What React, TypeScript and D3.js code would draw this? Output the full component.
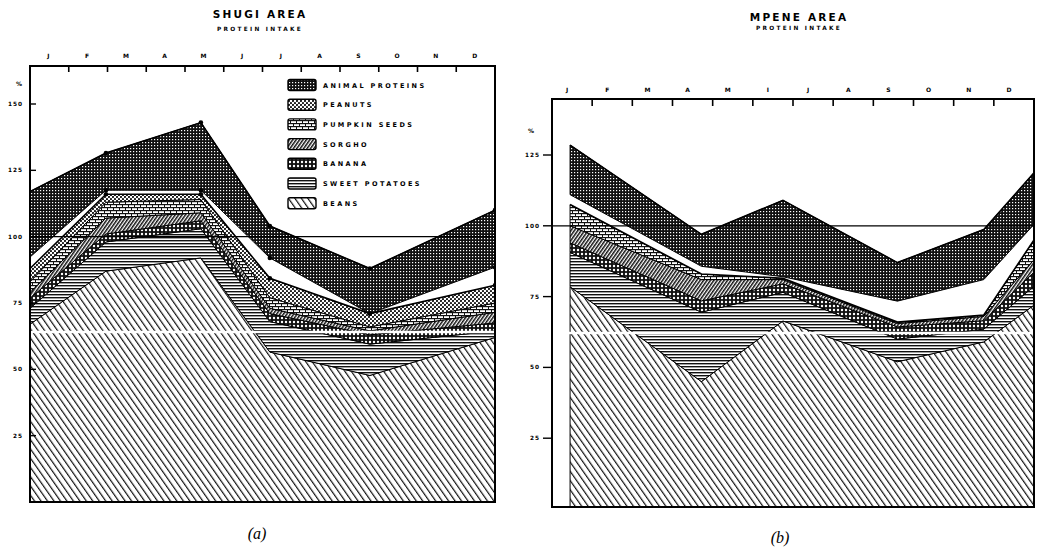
import React from "react";
import * as d3 from "d3";

// ---------- data ----------
const MONTHS_A = ["J", "F", "M", "A", "M", "J", "J", "A", "S", "O", "N", "D"];
const MONTHS_B = ["J", "F", "M", "A", "M", "I", "J", "A", "S", "O", "N", "D"];

const KEYS = ["beans", "sweetPotatoes", "banana", "sorgho", "pumpkin", "peanuts", "gap", "animal"];

const LEGEND_KEYS = ["animal", "peanuts", "pumpkin", "sorgho", "banana", "sweetPotatoes", "beans"];
const LEGEND_LABELS = ["ANIMAL PROTEINS", "PEANUTS", "PUMPKIN SEEDS", "SORGHO", "BANANA", "SWEET POTATOES", "BEANS"];

// Shugi area (month position, 0 = start of January)
const SHUGI_X = [0, 1.96, 4.41, 6.19, 8.77, 12];
const SHUGI_BEANS = [67, 87, 92, 56.5, 47.7, 62];
const SHUGI_SWEET_POTATOES = [6, 11, 11, 11.5, 11.8, 2.5];
const SHUGI_BANANA = [3.8, 3, 3, 3, 3.5, 3];
const SHUGI_SORGHO = [2.2, 6, 3, 2, 1.5, 4];
const SHUGI_PUMPKIN = [4, 6, 5, 4, 1.5, 3.5];
const SHUGI_PEANUTS = [5, 3, 2, 7.3, 5, 6.7];
const SHUGI_GAP = [4.3, 1.5, 1.5, 7.7, 0, 6.8];
const SHUGI_ANIMAL = [24.7, 14, 25.5, 12, 17, 21.5];

// Mpene area
const MPENE_X = [0.45, 3.72, 5.75, 8.6, 10.75, 12];
const MPENE_BEANS = [78.5, 45, 66.4, 52, 59, 72];
const MPENE_SWEET_POTATOES = [12.1, 24.5, 10.1, 8, 4.5, 6.7];
const MPENE_BANANA = [3.4, 4, 3, 4.3, 3, 4.9];
const MPENE_SORGHO = [6, 7.5, 1.5, 1.2, 1.5, 4.4];
const MPENE_PUMPKIN = [7.5, 2, 0.5, 0.5, 0.5, 7];
const MPENE_PEANUTS = [0, 0, 0, 0, 0, 0];
const MPENE_GAP = [3.5, 2.7, 0.5, 7.4, 12.5, 5.5];
const MPENE_ANIMAL = [17.5, 11.3, 27, 13.6, 17.7, 18.2];

const TICKS_A = [25, 50, 75, 100, 125, 150];
const TICKS_B = [25, 50, 75, 100, 125];

function buildRows(xs: number[], series: number[][]) {
  return xs.map((x, i) => {
    const r: any = { x };
    KEYS.forEach((k, j) => (r[k] = series[j][i]));
    return r;
  });
}

const SHUGI_ROWS = buildRows(SHUGI_X, [
  SHUGI_BEANS, SHUGI_SWEET_POTATOES, SHUGI_BANANA, SHUGI_SORGHO,
  SHUGI_PUMPKIN, SHUGI_PEANUTS, SHUGI_GAP, SHUGI_ANIMAL,
]);
const MPENE_ROWS = buildRows(MPENE_X, [
  MPENE_BEANS, MPENE_SWEET_POTATOES, MPENE_BANANA, MPENE_SORGHO,
  MPENE_PUMPKIN, MPENE_PEANUTS, MPENE_GAP, MPENE_ANIMAL,
]);

const FONT = "'DejaVu Sans', 'Liberation Sans', sans-serif";

function fillFor(k: string) {
  return k === "gap" ? "#fff" : `url(#p-${k})`;
}

function Patterns() {
  return (
    <defs>
      <pattern id="p-animal" width="3" height="3" patternUnits="userSpaceOnUse">
        <rect width="3" height="3" fill="#111" />
        <rect x="1" y="1" width="1.2" height="1.2" fill="#fff" />
      </pattern>
      <pattern id="p-peanuts" width="4" height="4" patternUnits="userSpaceOnUse">
        <rect width="4" height="4" fill="#fff" />
        <circle cx="1" cy="1" r="1.1" fill="#111" />
        <circle cx="3" cy="3" r="1.1" fill="#111" />
      </pattern>
      <pattern id="p-pumpkin" width="6" height="6" patternUnits="userSpaceOnUse">
        <rect width="6" height="6" fill="#fff" />
        <rect x="0" y="0" width="6" height="1.2" fill="#111" />
        <rect x="0" y="3" width="6" height="1.2" fill="#111" />
        <rect x="2" y="1" width="1" height="2" fill="#111" />
        <rect x="5" y="4" width="1" height="2" fill="#111" />
      </pattern>
      <pattern id="p-sorgho" width="2.8" height="10" patternUnits="userSpaceOnUse" patternTransform="rotate(35)">
        <rect width="2.8" height="10" fill="#fff" />
        <rect x="0" y="0" width="1.5" height="10" fill="#111" />
      </pattern>
      <pattern id="p-banana" width="4" height="4" patternUnits="userSpaceOnUse">
        <rect width="4" height="4" fill="#111" />
        <circle cx="2" cy="2" r="1.2" fill="#fff" />
      </pattern>
      <pattern id="p-sweetPotatoes" width="4" height="3" patternUnits="userSpaceOnUse">
        <rect width="4" height="3" fill="#fff" />
        <rect x="0" y="0" width="4" height="1.4" fill="#111" />
      </pattern>
      <pattern id="p-beans" width="5.3" height="10" patternUnits="userSpaceOnUse" patternTransform="rotate(-35)">
        <rect width="5.3" height="10" fill="#fff" />
        <rect x="0" y="0" width="1.2" height="10" fill="#111" />
      </pattern>
    </defs>
  );
}

type ChartProps = {
  id: string;
  rows: any[];
  left: number; right: number; top: number; bottom: number;
  y0px: number; yRefVal: number; yRefPx: number;
  months: string[]; monthY: number; monthOffset: number;
  ticks: number[]; tickLabelX: number; tickOutside: boolean;
  pctX: number; pctY: number;
  title: string; titleX: number; titleY: number; subY: number;
  artifactY: number;
  dots: boolean;
  tickLen: number;
};

function Chart(p: ChartProps) {
  const x = d3.scaleLinear().domain([0, 12]).range([p.left, p.right]);
  const y = d3.scaleLinear().domain([0, p.yRefVal]).range([p.y0px, p.yRefPx]);
  const stack = d3.stack<any>().keys(KEYS)(p.rows);
  const area = d3
    .area<any>()
    .x((d) => x(d.data.x))
    .y0((d) => y(d[0]))
    .y1((d) => y(d[1]));
  const line = d3
    .line<any>()
    .x((d) => x(d.data.x))
    .y((d) => y(d[1]));
  const monthW = (p.right - p.left) / 12;
  const animal = stack[KEYS.indexOf("animal")];
  const peanuts = stack[KEYS.indexOf("peanuts")];
  return (
    <g>
      <clipPath id={`clip-${p.id}`}>
        <rect x={p.left} y={p.top} width={p.right - p.left} height={p.bottom - p.top} />
      </clipPath>
      <text x={p.titleX} y={p.titleY} textAnchor="middle" fontFamily={FONT} fontWeight="bold" fontSize="10.5" letterSpacing="2.2">
        {p.title}
      </text>
      <text x={p.titleX} y={p.subY} textAnchor="middle" fontFamily={FONT} fontWeight="bold" fontSize="5.8" letterSpacing="2.3">
        PROTEIN INTAKE
      </text>
      <g clipPath={`url(#clip-${p.id})`}>
        {stack.map((s, i) => (
          <path key={KEYS[i]} d={area(s) || ""} fill={fillFor(KEYS[i])} stroke="#000" strokeWidth={KEYS[i] === "gap" ? 0 : 1} strokeLinejoin="round" />
        ))}
        <path d={line(peanuts) || ""} fill="none" stroke="#000" strokeWidth={1.6} />
        <path d={line(animal) || ""} fill="none" stroke="#000" strokeWidth={1.6} />
        <line x1={p.left} x2={p.right} y1={p.artifactY} y2={p.artifactY} stroke="#fff" strokeWidth={2.5} />
        <line x1={p.left} x2={p.right} y1={y(100)} y2={y(100)} stroke="#000" strokeWidth={1.3} />
        {p.dots &&
          animal.slice(1).map((d: any, i: number) => (
            <g key={"dot" + i}>
              <circle cx={x(d.data.x)} cy={y(d[1])} r={2.3} fill="#000" />
              <circle cx={x(d.data.x)} cy={y(d[0])} r={2.3} fill="#000" />
            </g>
          ))}
        {p.dots &&
          peanuts.slice(1).map((d: any, i: number) => (
            <circle key={"pd" + i} cx={x(d.data.x)} cy={y(d[1])} r={2.3} fill="#000" />
          ))}
      </g>
      {/* frame */}
      <rect x={p.left} y={p.top} width={p.right - p.left} height={p.bottom - p.top} fill="none" stroke="#000" strokeWidth={2} />
      {/* month ticks and labels */}
      {d3.range(1, 12).map((k) => (
        <line key={"mt" + k} x1={x(k)} x2={x(k)} y1={p.top} y2={p.top + p.tickLen} stroke="#000" strokeWidth={1.6} />
      ))}
      {p.months.map((m, i) => (
        <text key={"ml" + i} x={p.left + monthW * (i + 0.5) + p.monthOffset} y={p.monthY} textAnchor="middle" fontFamily={FONT} fontWeight="bold" fontSize="6">
          {m}
        </text>
      ))}
      {/* y ticks */}
      {p.ticks.map((t) => (
        <g key={"yt" + t}>
          <line x1={p.tickOutside ? p.left - 9 : p.left} x2={p.tickOutside ? p.left : p.left + 6} y1={y(t)} y2={y(t)} stroke="#000" strokeWidth={1.4} />
          <text x={p.tickLabelX} y={y(t) + 2} textAnchor="end" fontFamily={FONT} fontWeight="bold" fontSize="5.8" letterSpacing="1">
            {t}
          </text>
        </g>
      ))}
      <text x={p.pctX} y={p.pctY} textAnchor="middle" fontFamily={FONT} fontWeight="bold" fontSize="6">
        %
      </text>
    </g>
  );
}

function Legend() {
  return (
    <g>
      {LEGEND_KEYS.map((k, i) => {
        const cy = 85 + i * 19.7;
        return (
          <g key={k}>
            <rect x={288} y={cy - 5.5} width={28} height={11} rx={2} fill={fillFor(k)} stroke="#000" strokeWidth={1.4} />
            <text x={323} y={cy + 2.5} fontFamily={FONT} fontWeight="bold" fontSize="6.5" letterSpacing="2.4">
              {LEGEND_LABELS[i]}
            </text>
          </g>
        );
      })}
    </g>
  );
}

export default function App() {
  return (
    <svg width={1044} height={552} style={{ position: "absolute", left: 0, top: 0, background: "#fff" }}>
      <rect width={1044} height={552} fill="#fff" />
      <Patterns />
      <Chart
        id="a" rows={SHUGI_ROWS}
        left={30} right={495} top={66} bottom={502}
        y0px={502} yRefVal={150} yRefPx={104}
        months={MONTHS_A} monthY={58} monthOffset={-1}
        ticks={TICKS_A} tickLabelX={23} tickOutside={false}
        pctX={19} pctY={86}
        title="SHUGI AREA" titleX={260} titleY={18} subY={31}
        artifactY={332} dots={true} tickLen={6}
      />
      <Legend />
      <Chart
        id="b" rows={MPENE_ROWS}
        left={552} right={1034} top={99} bottom={507}
        y0px={509} yRefVal={125} yRefPx={155}
        months={MONTHS_B} monthY={92} monthOffset={-5}
        ticks={TICKS_B} tickLabelX={540} tickOutside={true}
        pctX={531} pctY={133}
        title="MPENE AREA" titleX={799} titleY={21} subY={30}
        artifactY={333} dots={false} tickLen={7}
      />
      <text x={257} y={539} textAnchor="middle" fontFamily="'Liberation Serif', serif" fontStyle="italic" fontSize="16">(a)</text>
      <text x={780} y={543} textAnchor="middle" fontFamily="'Liberation Serif', serif" fontStyle="italic" fontSize="16">(b)</text>
    </svg>
  );
}
